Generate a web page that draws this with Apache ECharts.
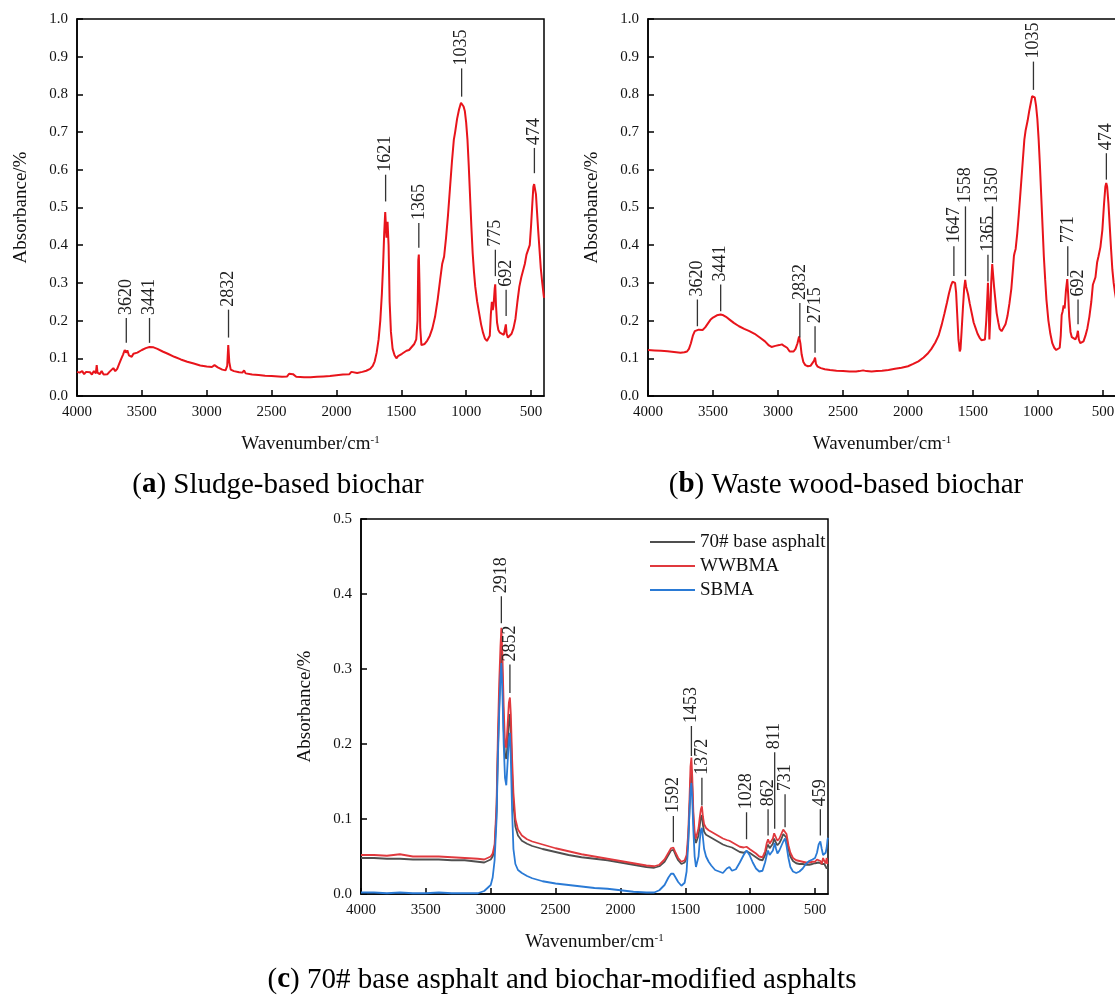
<!DOCTYPE html>
<html>
<head>
<meta charset="utf-8">
<script src="https://cdn.jsdelivr.net/npm/echarts@6/dist/echarts.min.js"></script>
<style>
  html, body { margin: 0; padding: 0; background: #fff; }
  #main { width: 1115px; height: 999px; }
</style>
</head>
<body>
<div id="main"></div>
<script>
// FTIR spectra of biochars and asphalts
var SERIF = '"Liberation Serif", "Times New Roman", serif';

var xTicks = [500, 1000, 1500, 2000, 2500, 3000, 3500, 4000];

// (a) sludge-based biochar
var waveA = [4000, 3980, 3960, 3945, 3930, 3915, 3900, 3885, 3870, 3855, 3848, 3842, 3825, 3810, 3795, 3780, 3765, 3750, 3735, 3720,
  3705, 3690, 3675, 3660, 3645, 3632, 3622, 3612, 3600, 3590, 3578, 3565, 3550, 3535, 3520, 3500, 3470, 3441, 3410, 3380,
  3340, 3300, 3250, 3200, 3150, 3100, 3050, 3000, 2960, 2940, 2915, 2880, 2855, 2842, 2834, 2826, 2815, 2790, 2750, 2725,
  2712, 2700, 2650, 2600, 2550, 2500, 2420, 2380, 2365, 2350, 2335, 2310, 2250, 2200, 2150, 2100, 2050, 2000, 1950, 1900,
  1885, 1875, 1840, 1800, 1770, 1740, 1720, 1705, 1690, 1675, 1662, 1650, 1640, 1632, 1624, 1614, 1606, 1598, 1590, 1580,
  1567, 1552, 1538, 1525, 1510, 1495, 1480, 1460, 1440, 1420, 1400, 1385, 1375, 1369, 1365, 1360, 1354, 1345, 1335, 1320,
  1300, 1280, 1260, 1240, 1220, 1200, 1185, 1170, 1155, 1140, 1125, 1110, 1095, 1085, 1070, 1055, 1040, 1030, 1020, 1010,
  1000, 990, 980, 970, 960, 950, 940, 930, 915, 900, 885, 870, 855, 840, 828, 818, 810, 802, 795, 789,
  780, 776, 770, 762, 752, 740, 725, 710, 700, 694, 688, 678, 665, 650, 635, 620, 605, 590, 575, 560,
  548, 535, 522, 510, 500, 490, 482, 476, 470, 462, 455, 445, 435, 425, 415, 405, 400];
var absA = [0.064, 0.062, 0.066, 0.058, 0.064, 0.060, 0.063, 0.057, 0.066, 0.060, 0.082, 0.062, 0.058, 0.066, 0.057, 0.062, 0.058, 0.064, 0.060, 0.074,
  0.066, 0.072, 0.085, 0.098, 0.110, 0.122, 0.115, 0.121, 0.108, 0.113, 0.104, 0.112, 0.108, 0.115, 0.118, 0.122, 0.127, 0.130, 0.129, 0.125,
  0.118, 0.112, 0.104, 0.097, 0.091, 0.086, 0.081, 0.078, 0.077, 0.082, 0.076, 0.070, 0.068, 0.080, 0.135, 0.090, 0.070, 0.066, 0.063, 0.062,
  0.068, 0.060, 0.057, 0.056, 0.054, 0.053, 0.051, 0.052, 0.059, 0.056, 0.058, 0.051, 0.050, 0.050, 0.051, 0.052, 0.053, 0.055, 0.057, 0.058,
  0.064, 0.060, 0.061, 0.064, 0.067, 0.072, 0.080, 0.092, 0.115, 0.150, 0.200, 0.270, 0.350, 0.430, 0.488, 0.420, 0.462, 0.400, 0.250, 0.170,
  0.125, 0.108, 0.100, 0.106, 0.104, 0.112, 0.112, 0.120, 0.122, 0.130, 0.138, 0.150, 0.200, 0.360, 0.375, 0.300, 0.180, 0.135, 0.132, 0.138,
  0.147, 0.160, 0.180, 0.210, 0.255, 0.310, 0.350, 0.370, 0.420, 0.480, 0.550, 0.620, 0.680, 0.700, 0.735, 0.760, 0.778, 0.780, 0.768, 0.755,
  0.725, 0.680, 0.610, 0.530, 0.450, 0.380, 0.330, 0.290, 0.250, 0.220, 0.190, 0.168, 0.152, 0.146, 0.148, 0.160, 0.215, 0.250, 0.228, 0.240,
  0.285, 0.296, 0.240, 0.195, 0.175, 0.168, 0.165, 0.162, 0.160, 0.190, 0.165, 0.155, 0.155, 0.165, 0.180, 0.205, 0.250, 0.290, 0.315, 0.320,
  0.350, 0.375, 0.380, 0.400, 0.450, 0.510, 0.555, 0.562, 0.560, 0.535, 0.495, 0.440, 0.390, 0.340, 0.305, 0.275, 0.260];
var peakPosA = [3620, 3441, 2832, 1621, 1365, 1035, 775, 692, 474];
var peakTextA = ['3620', '3441', '2832', '1621', '1365', '1035', '775', '692', '474'];
var peakFromA = [0.141, 0.141, 0.155, 0.516, 0.393, 0.794, 0.318, 0.212, 0.591];
var peakToA = [0.207, 0.207, 0.229, 0.587, 0.459, 0.869, 0.388, 0.282, 0.658];

// (b) waste wood-based biochar
var waveB = [4000, 3950, 3900, 3850, 3800, 3750, 3720, 3700, 3685, 3670, 3655, 3640, 3625, 3610, 3595, 3580, 3560, 3540, 3520, 3500,
  3470, 3441, 3420, 3400, 3370, 3340, 3300, 3260, 3220, 3180, 3140, 3100, 3070, 3050, 3020, 2990, 2970, 2950, 2930, 2910,
  2895, 2880, 2865, 2850, 2838, 2828, 2818, 2805, 2790, 2770, 2750, 2735, 2722, 2715, 2708, 2695, 2670, 2640, 2600, 2550,
  2500, 2450, 2400, 2375, 2360, 2345, 2320, 2280, 2240, 2200, 2150, 2100, 2050, 2000, 1960, 1920, 1880, 1850, 1820, 1790,
  1765, 1740, 1720, 1700, 1685, 1670, 1658, 1647, 1638, 1630, 1622, 1612, 1602, 1596, 1588, 1578, 1568, 1560, 1553, 1546,
  1538, 1525, 1510, 1495, 1480, 1465, 1450, 1435, 1420, 1408, 1398, 1390, 1385, 1380, 1374, 1368, 1360, 1352, 1345, 1338,
  1328, 1318, 1305, 1295, 1280, 1265, 1250, 1235, 1220, 1205, 1192, 1185, 1180, 1172, 1160, 1148, 1135, 1120, 1105, 1095,
  1080, 1068, 1055, 1045, 1035, 1025, 1015, 1005, 995, 985, 975, 965, 955, 945, 935, 920, 905, 890, 875, 860,
  845, 833, 825, 818, 810, 803, 795, 785, 775, 768, 760, 750, 740, 725, 712, 700, 693, 686, 675, 665,
  650, 635, 620, 605, 590, 578, 568, 558, 545, 535, 520, 505, 492, 482, 475, 468, 458, 448, 438, 428,
  418, 408, 400];
var absB = [0.122, 0.121, 0.120, 0.119, 0.117, 0.115, 0.116, 0.118, 0.125, 0.140, 0.160, 0.172, 0.177, 0.176, 0.174, 0.175, 0.182, 0.192, 0.202, 0.208,
  0.214, 0.216, 0.214, 0.210, 0.202, 0.194, 0.185, 0.178, 0.172, 0.165, 0.155, 0.145, 0.134, 0.130, 0.133, 0.135, 0.137, 0.132, 0.128, 0.118,
  0.114, 0.118, 0.125, 0.140, 0.158, 0.140, 0.110, 0.090, 0.082, 0.079, 0.080, 0.084, 0.094, 0.102, 0.085, 0.078, 0.074, 0.071, 0.069, 0.067,
  0.066, 0.065, 0.065, 0.066, 0.070, 0.068, 0.066, 0.065, 0.066, 0.067, 0.069, 0.072, 0.075, 0.079, 0.085, 0.092, 0.102, 0.112, 0.125, 0.142,
  0.160, 0.190, 0.218, 0.248, 0.272, 0.292, 0.303, 0.306, 0.300, 0.275, 0.220, 0.150, 0.118, 0.125, 0.170, 0.230, 0.285, 0.308, 0.290, 0.292,
  0.270, 0.245, 0.220, 0.195, 0.180, 0.165, 0.155, 0.148, 0.145, 0.150, 0.200, 0.260, 0.300, 0.260, 0.150, 0.200, 0.300, 0.350, 0.320, 0.290,
  0.255, 0.220, 0.195, 0.178, 0.172, 0.176, 0.190, 0.212, 0.245, 0.285, 0.340, 0.372, 0.380, 0.390, 0.430, 0.480, 0.540, 0.610, 0.680, 0.705,
  0.730, 0.755, 0.778, 0.795, 0.800, 0.792, 0.770, 0.735, 0.680, 0.610, 0.530, 0.450, 0.370, 0.310, 0.255, 0.200, 0.165, 0.140, 0.128, 0.122,
  0.122, 0.128, 0.160, 0.215, 0.225, 0.240, 0.232, 0.280, 0.310, 0.270, 0.210, 0.170, 0.156, 0.152, 0.150, 0.160, 0.173, 0.150, 0.140, 0.136,
  0.145, 0.160, 0.180, 0.210, 0.250, 0.295, 0.305, 0.315, 0.355, 0.370, 0.395, 0.440, 0.510, 0.555, 0.565, 0.555, 0.510, 0.450, 0.390, 0.335,
  0.300, 0.275, 0.258];
var peakPosB = [3620, 3441, 2832, 2715, 1647, 1558, 1385, 1350, 1035, 771, 692, 474];
var peakTextB = ['3620', '3441', '2832', '2715', '1647', '1558', '1365', '1350', '1035', '771', '692', '474'];
var peakFromB = [0.185, 0.225, 0.155, 0.115, 0.318, 0.318, 0.304, 0.353, 0.812, 0.318, 0.190, 0.574];
var peakToB = [0.256, 0.296, 0.247, 0.185, 0.397, 0.503, 0.375, 0.503, 0.887, 0.397, 0.256, 0.644];

// (c) base asphalt and modified asphalts
var waveC = [4000, 3900, 3800, 3700, 3600, 3500, 3400, 3300, 3200, 3100, 3050, 3000, 2985, 2970, 2955, 2945, 2935, 2925, 2918, 2910,
  2900, 2890, 2880, 2870, 2860, 2852, 2845, 2835, 2825, 2810, 2790, 2760, 2720, 2680, 2600, 2500, 2400, 2300, 2200, 2100,
  2000, 1900, 1800, 1740, 1700, 1660, 1630, 1610, 1592, 1575, 1555, 1530, 1505, 1490, 1478, 1468, 1460, 1453, 1446, 1438,
  1428, 1418, 1408, 1398, 1388, 1380, 1372, 1364, 1355, 1340, 1320, 1300, 1270, 1240, 1210, 1180, 1160, 1140, 1110, 1080,
  1050, 1028, 1005, 980, 955, 930, 905, 885, 872, 862, 850, 838, 825, 815, 811, 800, 790, 775, 760, 745,
  731, 720, 705, 690, 670, 645, 620, 595, 570, 545, 520, 500, 485, 472, 459, 448, 438, 428, 418, 410,
  404, 400];
var absBase = [0.048, 0.048, 0.047, 0.047, 0.046, 0.046, 0.046, 0.045, 0.045, 0.043, 0.042, 0.046, 0.050, 0.060, 0.110, 0.190, 0.250, 0.300, 0.330, 0.290,
  0.220, 0.185, 0.180, 0.200, 0.230, 0.240, 0.215, 0.160, 0.120, 0.090, 0.078, 0.071, 0.067, 0.064, 0.060, 0.056, 0.052, 0.049, 0.047, 0.045,
  0.042, 0.039, 0.036, 0.035, 0.037, 0.043, 0.052, 0.058, 0.059, 0.052, 0.045, 0.040, 0.042, 0.048, 0.070, 0.110, 0.150, 0.165, 0.140, 0.100,
  0.075, 0.068, 0.070, 0.078, 0.092, 0.102, 0.105, 0.092, 0.083, 0.079, 0.077, 0.075, 0.072, 0.069, 0.066, 0.064, 0.063, 0.062, 0.059, 0.056,
  0.055, 0.057, 0.055, 0.052, 0.049, 0.046, 0.045, 0.052, 0.062, 0.066, 0.061, 0.062, 0.067, 0.074, 0.075, 0.068, 0.065, 0.068, 0.073, 0.080,
  0.082, 0.075, 0.060, 0.050, 0.044, 0.041, 0.040, 0.040, 0.039, 0.039, 0.040, 0.041, 0.041, 0.042, 0.041, 0.040, 0.042, 0.040, 0.038, 0.034,
  0.035, 0.036];
var absWWB = [0.052, 0.052, 0.051, 0.053, 0.050, 0.050, 0.050, 0.049, 0.048, 0.047, 0.046, 0.050, 0.054, 0.066, 0.120, 0.210, 0.280, 0.330, 0.355, 0.320,
  0.250, 0.200, 0.195, 0.225, 0.255, 0.262, 0.240, 0.180, 0.135, 0.100, 0.086, 0.078, 0.073, 0.070, 0.066, 0.061, 0.057, 0.053, 0.050, 0.047,
  0.044, 0.041, 0.038, 0.037, 0.039, 0.046, 0.055, 0.061, 0.062, 0.055, 0.048, 0.043, 0.045, 0.052, 0.080, 0.125, 0.170, 0.182, 0.155, 0.110,
  0.082, 0.074, 0.076, 0.088, 0.103, 0.113, 0.117, 0.103, 0.093, 0.088, 0.085, 0.083, 0.080, 0.077, 0.074, 0.072, 0.071, 0.069, 0.066, 0.063,
  0.062, 0.063, 0.060, 0.057, 0.054, 0.050, 0.049, 0.057, 0.068, 0.073, 0.067, 0.068, 0.074, 0.081, 0.083, 0.075, 0.071, 0.074, 0.080, 0.086,
  0.088, 0.080, 0.065, 0.055, 0.048, 0.045, 0.044, 0.043, 0.042, 0.042, 0.043, 0.043, 0.046, 0.046, 0.044, 0.040, 0.048, 0.044, 0.041, 0.048,
  0.040, 0.040];
var absSB = [0.002, 0.002, 0.001, 0.002, 0.001, 0.001, 0.002, 0.001, 0.001, 0.001, 0.004, 0.012, 0.022, 0.045, 0.100, 0.180, 0.240, 0.290, 0.308, 0.270,
  0.200, 0.155, 0.145, 0.175, 0.205, 0.215, 0.180, 0.110, 0.060, 0.040, 0.032, 0.028, 0.024, 0.021, 0.017, 0.014, 0.012, 0.010, 0.008, 0.007,
  0.005, 0.003, 0.002, 0.002, 0.005, 0.012, 0.022, 0.027, 0.027, 0.022, 0.016, 0.011, 0.015, 0.030, 0.065, 0.110, 0.140, 0.148, 0.125, 0.085,
  0.050, 0.036, 0.035, 0.050, 0.072, 0.085, 0.088, 0.075, 0.060, 0.050, 0.043, 0.038, 0.032, 0.030, 0.028, 0.034, 0.036, 0.031, 0.033, 0.042,
  0.052, 0.058, 0.052, 0.042, 0.034, 0.030, 0.031, 0.042, 0.052, 0.058, 0.052, 0.053, 0.058, 0.065, 0.068, 0.060, 0.054, 0.058, 0.064, 0.070,
  0.074, 0.065, 0.048, 0.036, 0.030, 0.028, 0.030, 0.034, 0.040, 0.044, 0.046, 0.048, 0.055, 0.066, 0.070, 0.060, 0.052, 0.050, 0.055, 0.062,
  0.072, 0.075];
var peakPosC = [2918, 2852, 1592, 1453, 1372, 1028, 862, 811, 731, 459];
var peakTextC = ['2918', '2852', '1592', '1453', '1372', '1028', '862', '811', '731', '459'];
var peakFromC = [0.361, 0.268, 0.069, 0.184, 0.118, 0.073, 0.078, 0.087, 0.089, 0.078];
var peakToC = [0.397, 0.306, 0.104, 0.224, 0.155, 0.109, 0.113, 0.189, 0.133, 0.113];

var seriesNames = ['70# base asphalt', 'WWBMA', 'SBMA'];

function zip(xs, ys) {
  var out = [];
  for (var i = 0; i < xs.length; i++) {
    out.push([xs[i], ys[i]]);
  }
  return out;
}

function xAxisOf(i) {
  return {
    gridIndex: i,
    type: 'value',
    min: 400,
    max: 4000,
    inverse: true,
    axisLine: { lineStyle: { color: '#000', width: 1.5 } },
    axisTick: { inside: true, length: 6, customValues: xTicks, lineStyle: { color: '#000', width: 1.5 } },
    axisLabel: {
      customValues: xTicks, color: '#111', fontSize: 15, fontFamily: SERIF, margin: 9,
      formatter: function (v) { return String(v); }
    },
    splitLine: { show: false },
    name: 'Wavenumber/cm{sup|-1}',
    nameLocation: 'middle',
    nameGap: 39,
    nameTextStyle: {
      color: '#111', fontSize: 19, fontFamily: SERIF,
      rich: { sup: { fontSize: 11, fontFamily: SERIF, color: '#111', verticalAlign: 'top', padding: [0, 0, 8, 0] } }
    }
  };
}

function yAxisOf(i, max) {
  return {
    gridIndex: i,
    type: 'value',
    min: 0,
    max: max,
    interval: 0.1,
    axisLine: { show: true, lineStyle: { color: '#000', width: 1.5 } },
    axisTick: { show: true, inside: true, length: 6, lineStyle: { color: '#000', width: 1.5 } },
    axisLabel: { color: '#111', fontSize: 15, fontFamily: SERIF, margin: 9, formatter: function (v) { return v.toFixed(1); } },
    splitLine: { show: false },
    name: 'Absorbance/%',
    nameLocation: 'middle',
    nameGap: 46,
    nameTextStyle: { color: '#111', fontSize: 19, fontFamily: SERIF }
  };
}

function peakSeries(i, pos, from, to, texts) {
  var data = [];
  for (var k = 0; k < pos.length; k++) {
    data.push([pos[k], from[k], to[k]]);
  }
  return {
    type: 'custom',
    xAxisIndex: i,
    yAxisIndex: i,
    clip: false,
    silent: true,
    z: 5,
    encode: { x: 0, y: [1, 2] },
    data: data,
    renderItem: function (params, api) {
      var p1 = api.coord([api.value(0), api.value(1)]);
      var p2 = api.coord([api.value(0), api.value(2)]);
      return {
        type: 'group',
        children: [{
          type: 'line',
          shape: { x1: p1[0], y1: p1[1], x2: p2[0], y2: p2[1] },
          style: { stroke: '#333', lineWidth: 1.3 }
        }, {
          type: 'text',
          x: p2[0],
          y: p2[1] - 3,
          rotation: Math.PI / 2,
          style: {
            text: texts[params.dataIndex],
            textAlign: 'left',
            textVerticalAlign: 'middle',
            fontFamily: SERIF,
            fontSize: 18,
            fill: '#222'
          }
        }]
      };
    }
  };
}

function lineSeries(i, name, data, color, width) {
  return {
    type: 'line',
    name: name,
    xAxisIndex: i,
    yAxisIndex: i,
    data: data,
    symbol: 'none',
    lineStyle: { color: color, width: width },
    itemStyle: { color: color },
    z: 3
  };
}

var chart = echarts.init(document.getElementById('main'), null, { renderer: 'canvas' });

var gridStyle = { show: true, borderColor: '#000', borderWidth: 1.5, outerBoundsMode: 'none', containLabel: false };

function caption(x, y, letter, rest) {
  return {
    type: 'text', x: x, y: y,
    style: {
      text: '({b|' + letter + '}) ' + rest, textAlign: 'center', textVerticalAlign: 'middle',
      fontFamily: SERIF, fontSize: 29, fill: '#000',
      rich: { b: { fontFamily: SERIF, fontSize: 29, fontWeight: 'bold' } }
    }
  };
}

var option = {
  animation: false,
  backgroundColor: '#fff',
  grid: [
    Object.assign({ left: 77, top: 19, width: 467, height: 377 }, gridStyle),
    Object.assign({ left: 648, top: 19, width: 468, height: 377 }, gridStyle),
    Object.assign({ left: 361, top: 519, width: 467, height: 375 }, gridStyle)
  ],
  xAxis: [xAxisOf(0), xAxisOf(1), xAxisOf(2)],
  yAxis: [yAxisOf(0, 1), yAxisOf(1, 1), yAxisOf(2, 0.5)],
  legend: {
    data: seriesNames,
    orient: 'vertical',
    left: 645,
    top: 527,
    icon: 'rect',
    itemWidth: 45,
    itemHeight: 2,
    itemGap: 4,
    textStyle: { color: '#111', fontSize: 19, fontFamily: SERIF, lineHeight: 20 }
  },
  graphic: [
    caption(278, 485, 'a', 'Sludge-based biochar'),
    caption(846, 485, 'b', 'Waste wood-based biochar'),
    caption(562, 980, 'c', '70# base asphalt and biochar-modified asphalts')
  ],
  series: [
    lineSeries(0, 'SBC', zip(waveA, absA), '#e8141b', 2),
    peakSeries(0, peakPosA, peakFromA, peakToA, peakTextA),
    lineSeries(1, 'WWBC', zip(waveB, absB), '#e8141b', 2),
    peakSeries(1, peakPosB, peakFromB, peakToB, peakTextB),
    lineSeries(2, seriesNames[0], zip(waveC, absBase), '#4f4f4f', 1.8),
    lineSeries(2, seriesNames[1], zip(waveC, absWWB), '#e0393e', 1.8),
    lineSeries(2, seriesNames[2], zip(waveC, absSB), '#2a7ad5', 1.8),
    peakSeries(2, peakPosC, peakFromC, peakToC, peakTextC)
  ]
};

chart.setOption(option);
</script>
</body>
</html>
